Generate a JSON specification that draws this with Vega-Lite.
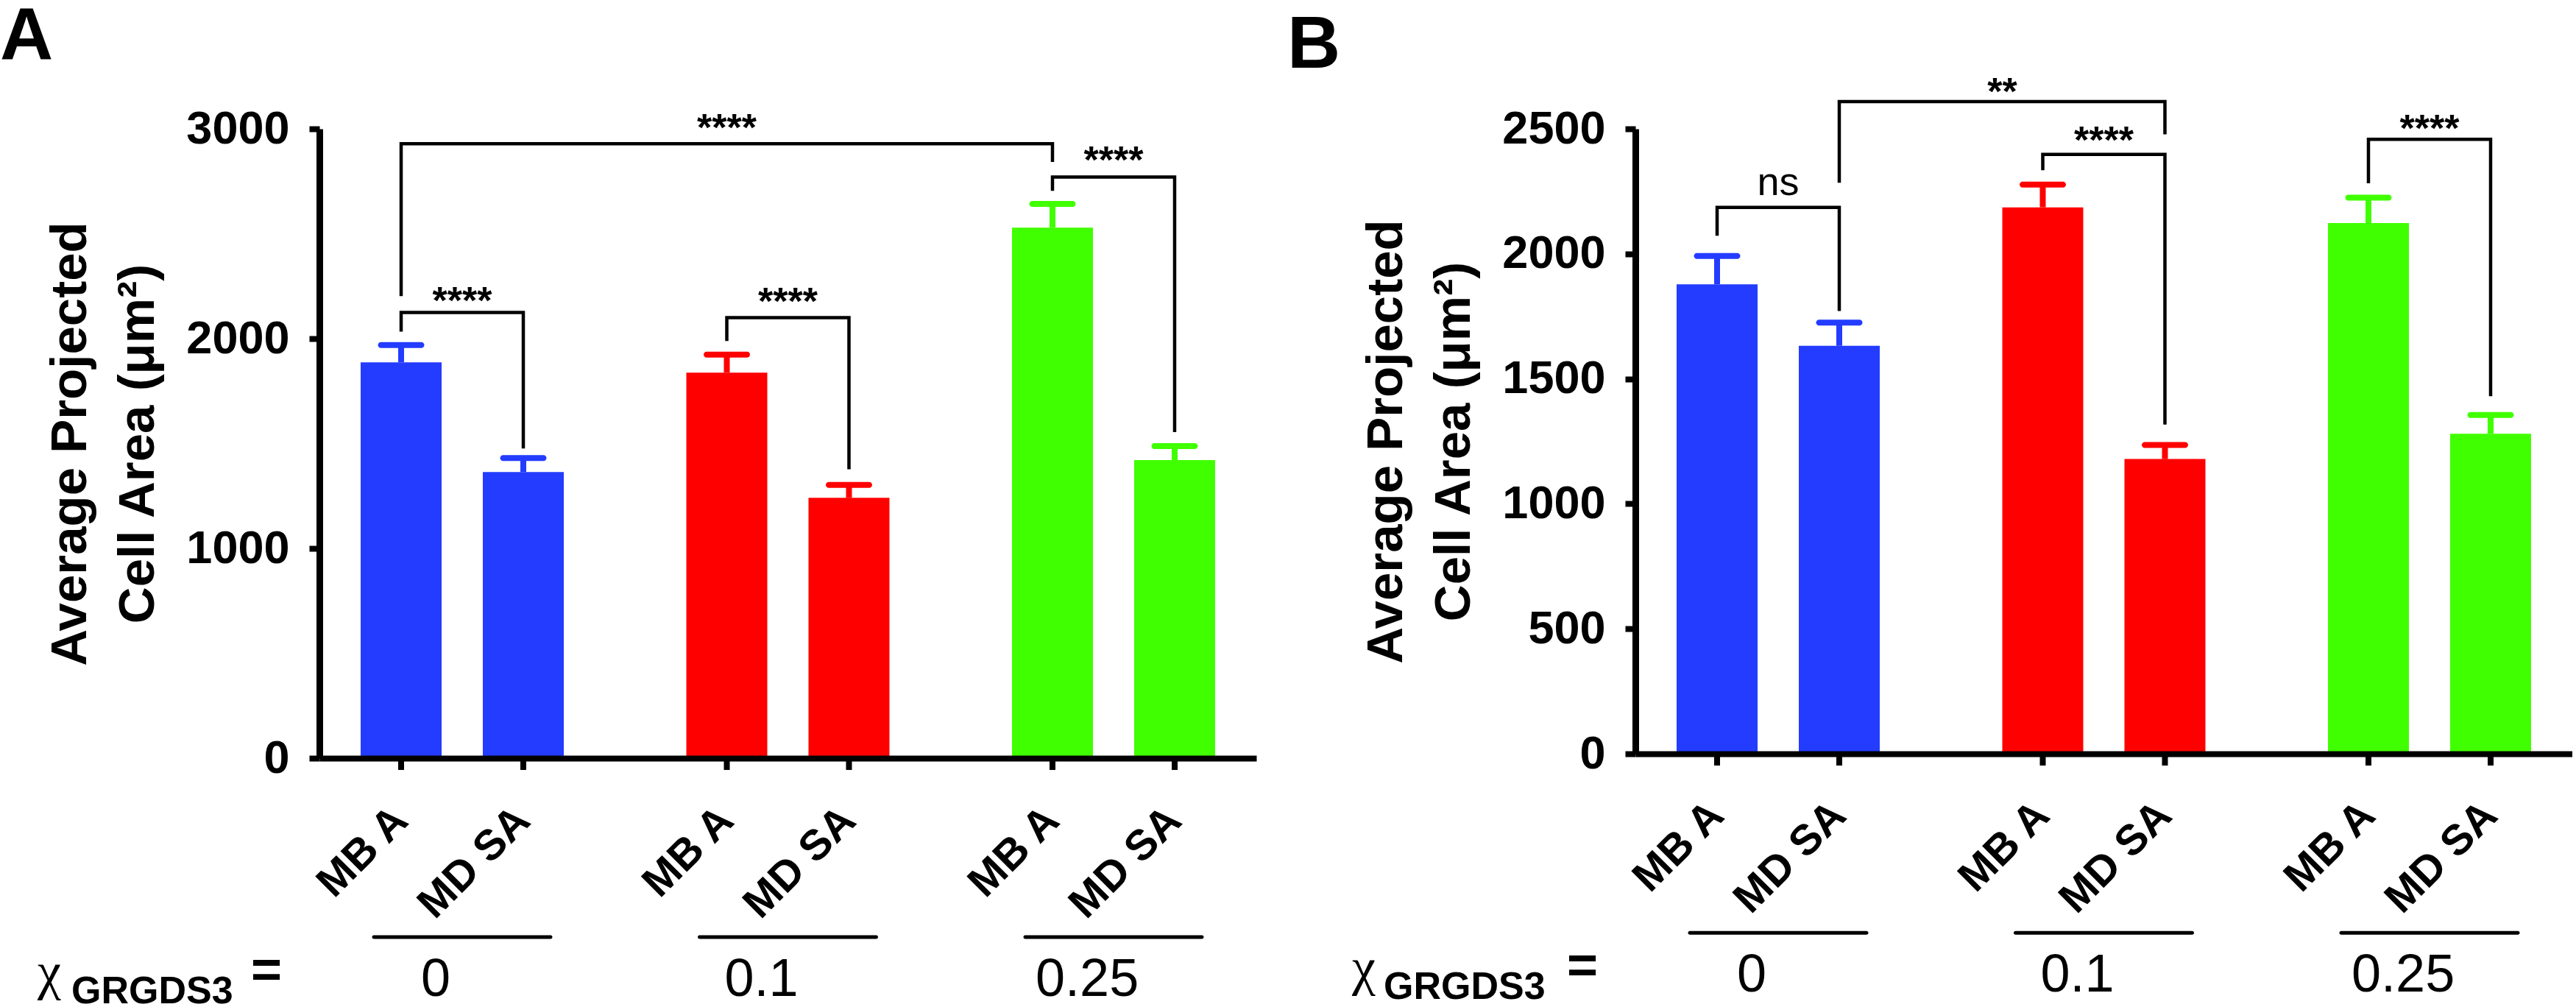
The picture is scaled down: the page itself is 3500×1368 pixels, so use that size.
{
  "$schema": "https://vega.github.io/schema/vega-lite/v6.json",
  "padding": 0,
  "background": "white",
  "spacing": 515,
  "bounds": "flush",
  "config": {"view": {"stroke": null}, "font": "Liberation Sans"},
  "datasets": {
    "barsA": [
      {"group": "0", "type": "MB A", "mean": 1887, "upper": 1969},
      {"group": "0", "type": "MD SA", "mean": 1364, "upper": 1431},
      {"group": "0.1", "type": "MB A", "mean": 1838, "upper": 1924},
      {"group": "0.1", "type": "MD SA", "mean": 1241, "upper": 1303},
      {"group": "0.25", "type": "MB A", "mean": 2529, "upper": 2642},
      {"group": "0.25", "type": "MD SA", "mean": 1421, "upper": 1488}
    ],
    "barsB": [
      {"group": "0", "type": "MB A", "mean": 1878, "upper": 1991},
      {"group": "0", "type": "MD SA", "mean": 1632, "upper": 1725},
      {"group": "0.1", "type": "MB A", "mean": 2186, "upper": 2277},
      {"group": "0.1", "type": "MD SA", "mean": 1179, "upper": 1235},
      {"group": "0.25", "type": "MB A", "mean": 2123, "upper": 2225},
      {"group": "0.25", "type": "MD SA", "mean": 1280, "upper": 1355}
    ],
    "bracketsA": [
      {"id": "big", "o": 1, "group": "0", "type": "MB A", "y": 2203},
      {"id": "big", "o": 2, "group": "0", "type": "MB A", "y": 2929},
      {"id": "big", "o": 3, "group": "0.25", "type": "MB A", "y": 2929},
      {"id": "big", "o": 4, "group": "0.25", "type": "MB A", "y": 2842},
      {"id": "g0", "o": 1, "group": "0", "type": "MB A", "y": 2033},
      {"id": "g0", "o": 2, "group": "0", "type": "MB A", "y": 2125},
      {"id": "g0", "o": 3, "group": "0", "type": "MD SA", "y": 2125},
      {"id": "g0", "o": 4, "group": "0", "type": "MD SA", "y": 1476},
      {"id": "g1", "o": 1, "group": "0.1", "type": "MB A", "y": 1989},
      {"id": "g1", "o": 2, "group": "0.1", "type": "MB A", "y": 2100},
      {"id": "g1", "o": 3, "group": "0.1", "type": "MD SA", "y": 2100},
      {"id": "g1", "o": 4, "group": "0.1", "type": "MD SA", "y": 1377},
      {"id": "g2", "o": 1, "group": "0.25", "type": "MB A", "y": 2704},
      {"id": "g2", "o": 2, "group": "0.25", "type": "MB A", "y": 2770},
      {"id": "g2", "o": 3, "group": "0.25", "type": "MD SA", "y": 2770},
      {"id": "g2", "o": 4, "group": "0.25", "type": "MD SA", "y": 1554}
    ],
    "bracketsB": [
      {"id": "ns", "o": 1, "group": "0", "type": "MB A", "y": 2072},
      {"id": "ns", "o": 2, "group": "0", "type": "MB A", "y": 2186},
      {"id": "ns", "o": 3, "group": "0", "type": "MD SA", "y": 2186},
      {"id": "ns", "o": 4, "group": "0", "type": "MD SA", "y": 1771},
      {"id": "x2", "o": 1, "group": "0", "type": "MD SA", "y": 2284},
      {"id": "x2", "o": 2, "group": "0", "type": "MD SA", "y": 2609},
      {"id": "x2", "o": 3, "group": "0.1", "type": "MD SA", "y": 2609},
      {"id": "x2", "o": 4, "group": "0.1", "type": "MD SA", "y": 2478},
      {"id": "g1", "o": 1, "group": "0.1", "type": "MB A", "y": 2334},
      {"id": "g1", "o": 2, "group": "0.1", "type": "MB A", "y": 2398},
      {"id": "g1", "o": 3, "group": "0.1", "type": "MD SA", "y": 2398},
      {"id": "g1", "o": 4, "group": "0.1", "type": "MD SA", "y": 1317},
      {"id": "g2", "o": 1, "group": "0.25", "type": "MB A", "y": 2282},
      {"id": "g2", "o": 2, "group": "0.25", "type": "MB A", "y": 2458},
      {"id": "g2", "o": 3, "group": "0.25", "type": "MD SA", "y": 2458},
      {"id": "g2", "o": 4, "group": "0.25", "type": "MD SA", "y": 1430}
    ],
    "starsA": [
      {"text": "****", "group": "0", "y": 2120},
      {"text": "****", "group": "0.1", "y": 2117},
      {"text": "****", "group": "0.25", "y": 2788}
    ],
    "crossA": [
      {"text": "****", "group": "0.1", "type": "MB A", "y": 2943}
    ],
    "starsB": [
      {"text": "****", "group": "0.1", "y": 2403},
      {"text": "****", "group": "0.25", "y": 2451}
    ],
    "nsB": [
      {"text": "ns", "group": "0", "y": 2234}
    ],
    "crossB": [
      {"text": "**", "group": "0.1", "type": "MB A", "y": 2598}
    ],
    "groups": [
      {"group": "0"},
      {"group": "0.1"},
      {"group": "0.25"}
    ]
  },
  "hconcat": [
    {
      "width": 1273,
      "height": 855,
      "layer": [
        {
          "data": {"name": "barsA"},
          "mark": {"type": "bar"},
          "encoding": {
            "x": {"field": "group", "type": "nominal", "sort": null,
                  "scale": {"domain": ["0", "0.1", "0.25"], "paddingInner": 0.3763, "paddingOuter": 0.1266},
                  "axis": {"title": null, "labels": false, "ticks": false, "grid": false, "domainWidth": 8, "domainColor": "black", "zindex": 1}},
            "xOffset": {"field": "type", "type": "nominal", "scale": {"domain": ["MB A", "MD SA"], "paddingInner": 0.3373, "paddingOuter": 0}},
            "y": {"field": "mean", "type": "quantitative",
                  "scale": {"domain": [0, 3000], "nice": false},
                  "axis": {"title": ["Average Projected", "Cell  Area (μm²)"], "values": [0, 1000, 2000, 3000], "format": "d",
                           "labelFontSize": 63, "labelFontWeight": "bold", "labelColor": "black", "labelPadding": 27,
                           "tickSize": 14, "tickWidth": 8, "tickColor": "black", "domainWidth": 9, "domainColor": "black",
                           "grid": false, "titleFontSize": 69, "titleFontWeight": "bold", "titleColor": "black",
                           "titleLineHeight": 92, "titlePadding": 30, "zindex": 1}},
            "color": {"field": "group", "type": "nominal", "scale": {"domain": ["0", "0.1", "0.25"], "range": ["#233CFF", "#FF0000", "#40FF00"]}, "legend": null}
          }
        },
        {
          "data": {"name": "barsA"},
          "mark": {"type": "rule", "strokeWidth": 8},
          "encoding": {
            "x": {"field": "group", "type": "nominal"},
            "xOffset": {"field": "type", "type": "nominal"},
            "y": {"field": "mean", "type": "quantitative"},
            "y2": {"field": "upper"},
            "color": {"field": "group", "type": "nominal"}
          }
        },
        {
          "data": {"name": "barsA"},
          "mark": {"type": "tick", "orient": "horizontal", "size": 63, "thickness": 8, "cornerRadius": 4, "opacity": 1},
          "encoding": {
            "x": {"field": "group", "type": "nominal"},
            "xOffset": {"field": "type", "type": "nominal"},
            "y": {"field": "upper", "type": "quantitative"},
            "color": {"field": "group", "type": "nominal"}
          }
        },
        {
          "data": {"name": "barsA"},
          "mark": {"type": "rule", "strokeWidth": 8, "color": "black"},
          "encoding": {
            "x": {"field": "group", "type": "nominal"},
            "xOffset": {"field": "type", "type": "nominal"},
            "y": {"datum": 0},
            "y2": {"datum": -56}
          }
        },
        {
          "data": {"name": "barsA"},
          "mark": {"type": "text", "angle": 315, "align": "right", "baseline": "middle", "fontSize": 58, "fontWeight": "bold", "color": "black"},
          "encoding": {
            "x": {"field": "group", "type": "nominal"},
            "xOffset": {"field": "type", "type": "nominal"},
            "y": {"datum": -267},
            "text": {"field": "type"}
          }
        },
        {
          "data": {"name": "bracketsA"},
          "mark": {"type": "line", "color": "black", "strokeWidth": 4.5, "strokeCap": "butt", "strokeJoin": "miter"},
          "encoding": {
            "x": {"field": "group", "type": "nominal"},
            "xOffset": {"field": "type", "type": "nominal"},
            "y": {"field": "y", "type": "quantitative"},
            "detail": {"field": "id"},
            "order": {"field": "o"}
          }
        },
        {
          "data": {"name": "starsA"},
          "mark": {"type": "text", "fontSize": 52, "fontWeight": "bold", "baseline": "alphabetic", "color": "black"},
          "encoding": {
            "x": {"field": "group", "type": "nominal"},
            "y": {"field": "y", "type": "quantitative"},
            "text": {"field": "text"}
          }
        },
        {
          "data": {"name": "crossA"},
          "mark": {"type": "text", "fontSize": 52, "fontWeight": "bold", "baseline": "alphabetic", "color": "black"},
          "encoding": {
            "x": {"field": "group", "type": "nominal"},
            "xOffset": {"field": "type", "type": "nominal"},
            "y": {"field": "y", "type": "quantitative"},
            "text": {"field": "text"}
          }
        },
        {
          "data": {"name": "groups"},
          "mark": {"type": "tick", "orient": "horizontal", "size": 245, "thickness": 5, "cornerRadius": 2.5, "color": "black", "opacity": 1},
          "encoding": {
            "x": {"field": "group", "type": "nominal", "bandPosition": 0.37},
            "y": {"datum": -853}
          }
        },
        {
          "data": {"name": "groups"},
          "mark": {"type": "text", "fontSize": 72, "baseline": "alphabetic", "color": "black"},
          "encoding": {
            "x": {"field": "group", "type": "nominal", "bandPosition": 0.37},
            "y": {"datum": -1133},
            "text": {"field": "group"}
          }
        },
        {
          "data": {"values": [{}]},
          "mark": {"type": "text", "text": "χ", "font": "Liberation Serif", "fontSize": 72, "align": "left", "baseline": "alphabetic", "dx": -577, "color": "black"},
          "encoding": {"x": {"datum": "0"}, "y": {"datum": -1102}}
        },
        {
          "data": {"values": [{}]},
          "mark": {"type": "text", "text": "GRGDS3", "fontSize": 52, "fontWeight": "bold", "align": "left", "baseline": "alphabetic", "dx": -531, "color": "black"},
          "encoding": {"x": {"datum": "0"}, "y": {"datum": -1168}}
        },
        {
          "data": {"values": [{}]},
          "mark": {"type": "text", "text": "=", "fontSize": 72, "fontWeight": "bold", "align": "left", "baseline": "alphabetic", "dx": -287, "color": "black"},
          "encoding": {"x": {"datum": "0"}, "y": {"datum": -1091}}
        },
        {
          "data": {"values": [{}]},
          "mark": {"type": "text", "text": "A", "fontSize": 100, "fontWeight": "bold", "align": "left", "baseline": "alphabetic", "dx": -628, "color": "black"},
          "encoding": {"x": {"datum": "0"}, "y": {"datum": 3330}}
        }
      ]
    },
    {
      "width": 1273,
      "height": 849,
      "layer": [
        {
          "data": {"name": "barsB"},
          "mark": {"type": "bar"},
          "encoding": {
            "x": {"field": "group", "type": "nominal", "sort": null,
                  "scale": {"domain": ["0", "0.1", "0.25"], "paddingInner": 0.3763, "paddingOuter": 0.1266},
                  "axis": {"title": null, "labels": false, "ticks": false, "grid": false, "domainWidth": 8, "domainColor": "black", "zindex": 1}},
            "xOffset": {"field": "type", "type": "nominal", "scale": {"domain": ["MB A", "MD SA"], "paddingInner": 0.3373, "paddingOuter": 0}},
            "y": {"field": "mean", "type": "quantitative",
                  "scale": {"domain": [0, 2500], "nice": false},
                  "axis": {"title": ["Average Projected", "Cell  Area (μm²)"], "values": [0, 500, 1000, 1500, 2000, 2500], "format": "d",
                           "labelFontSize": 63, "labelFontWeight": "bold", "labelColor": "black", "labelPadding": 27,
                           "tickSize": 14, "tickWidth": 8, "tickColor": "black", "domainWidth": 9, "domainColor": "black",
                           "grid": false, "titleFontSize": 69, "titleFontWeight": "bold", "titleColor": "black",
                           "titleLineHeight": 92, "titlePadding": 30, "zindex": 1}},
            "color": {"field": "group", "type": "nominal", "scale": {"domain": ["0", "0.1", "0.25"], "range": ["#233CFF", "#FF0000", "#40FF00"]}, "legend": null}
          }
        },
        {
          "data": {"name": "barsB"},
          "mark": {"type": "rule", "strokeWidth": 8},
          "encoding": {
            "x": {"field": "group", "type": "nominal"},
            "xOffset": {"field": "type", "type": "nominal"},
            "y": {"field": "mean", "type": "quantitative"},
            "y2": {"field": "upper"},
            "color": {"field": "group", "type": "nominal"}
          }
        },
        {
          "data": {"name": "barsB"},
          "mark": {"type": "tick", "orient": "horizontal", "size": 63, "thickness": 8, "cornerRadius": 4, "opacity": 1},
          "encoding": {
            "x": {"field": "group", "type": "nominal"},
            "xOffset": {"field": "type", "type": "nominal"},
            "y": {"field": "upper", "type": "quantitative"},
            "color": {"field": "group", "type": "nominal"}
          }
        },
        {
          "data": {"name": "barsB"},
          "mark": {"type": "rule", "strokeWidth": 8, "color": "black"},
          "encoding": {
            "x": {"field": "group", "type": "nominal"},
            "xOffset": {"field": "type", "type": "nominal"},
            "y": {"datum": 0},
            "y2": {"datum": -47}
          }
        },
        {
          "data": {"name": "barsB"},
          "mark": {"type": "text", "angle": 315, "align": "right", "baseline": "middle", "fontSize": 58, "fontWeight": "bold", "color": "black"},
          "encoding": {
            "x": {"field": "group", "type": "nominal"},
            "xOffset": {"field": "type", "type": "nominal"},
            "y": {"datum": -221},
            "text": {"field": "type"}
          }
        },
        {
          "data": {"name": "bracketsB"},
          "mark": {"type": "line", "color": "black", "strokeWidth": 4.5, "strokeCap": "butt", "strokeJoin": "miter"},
          "encoding": {
            "x": {"field": "group", "type": "nominal"},
            "xOffset": {"field": "type", "type": "nominal"},
            "y": {"field": "y", "type": "quantitative"},
            "detail": {"field": "id"},
            "order": {"field": "o"}
          }
        },
        {
          "data": {"name": "starsB"},
          "mark": {"type": "text", "fontSize": 52, "fontWeight": "bold", "baseline": "alphabetic", "color": "black"},
          "encoding": {
            "x": {"field": "group", "type": "nominal"},
            "y": {"field": "y", "type": "quantitative"},
            "text": {"field": "text"}
          }
        },
        {
          "data": {"name": "nsB"},
          "mark": {"type": "text", "fontSize": 54, "baseline": "alphabetic", "color": "black"},
          "encoding": {
            "x": {"field": "group", "type": "nominal"},
            "y": {"field": "y", "type": "quantitative"},
            "text": {"field": "text"}
          }
        },
        {
          "data": {"name": "crossB"},
          "mark": {"type": "text", "fontSize": 52, "fontWeight": "bold", "baseline": "alphabetic", "dx": -55, "color": "black"},
          "encoding": {
            "x": {"field": "group", "type": "nominal"},
            "xOffset": {"field": "type", "type": "nominal"},
            "y": {"field": "y", "type": "quantitative"},
            "text": {"field": "text"}
          }
        },
        {
          "data": {"name": "groups"},
          "mark": {"type": "tick", "orient": "horizontal", "size": 245, "thickness": 5, "cornerRadius": 2.5, "color": "black", "opacity": 1},
          "encoding": {
            "x": {"field": "group", "type": "nominal", "bandPosition": 0.37},
            "y": {"datum": -716}
          }
        },
        {
          "data": {"name": "groups"},
          "mark": {"type": "text", "fontSize": 72, "baseline": "alphabetic", "color": "black"},
          "encoding": {
            "x": {"field": "group", "type": "nominal", "bandPosition": 0.37},
            "y": {"datum": -951},
            "text": {"field": "group"}
          }
        },
        {
          "data": {"values": [{}]},
          "mark": {"type": "text", "text": "χ", "font": "Liberation Serif", "fontSize": 72, "align": "left", "baseline": "alphabetic", "dx": -579, "color": "black"},
          "encoding": {"x": {"datum": "0"}, "y": {"datum": -925}}
        },
        {
          "data": {"values": [{}]},
          "mark": {"type": "text", "text": "GRGDS3", "fontSize": 52, "fontWeight": "bold", "align": "left", "baseline": "alphabetic", "dx": -536, "color": "black"},
          "encoding": {"x": {"datum": "0"}, "y": {"datum": -981}}
        },
        {
          "data": {"values": [{}]},
          "mark": {"type": "text", "text": "=", "fontSize": 72, "fontWeight": "bold", "align": "left", "baseline": "alphabetic", "dx": -287, "color": "black"},
          "encoding": {"x": {"datum": "0"}, "y": {"datum": -916}}
        },
        {
          "data": {"values": [{}]},
          "mark": {"type": "text", "text": "B", "fontSize": 100, "fontWeight": "bold", "align": "left", "baseline": "alphabetic", "dx": -667, "color": "black"},
          "encoding": {"x": {"datum": "0"}, "y": {"datum": 2744}}
        }
      ]
    }
  ]
}
